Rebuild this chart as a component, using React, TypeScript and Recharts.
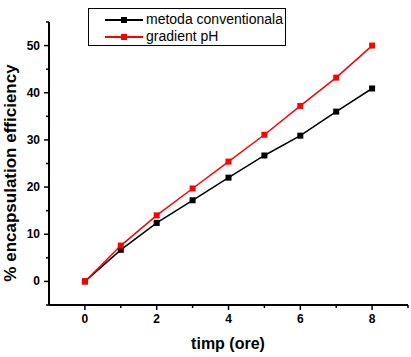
import React from "react";
import { LineChart, Line, XAxis, YAxis, Legend } from "recharts";

const hours = [0, 1, 2, 3, 4, 5, 6, 7, 8];
const conventional = [0, 6.7, 12.4, 17.2, 22.0, 26.7, 30.9, 36.0, 40.9];
const gradientPH = [0, 7.6, 14.0, 19.7, 25.4, 31.1, 37.2, 43.2, 50.0];
const xTicks = [0, 1, 2, 3, 4, 5, 6, 7, 8, 9];
const yTicks = [-5, 0, 5, 10, 15, 20, 25, 30, 35, 40, 45, 50, 55];
const seriesNames = ["metoda conventionala", "gradient pH"];
const seriesColors = ["#000000", "#ff0000"];

const data = hours.map((h, i) => ({ h, a: conventional[i], b: gradientPH[i] }));

const FONT = "'Liberation Sans', Arial, sans-serif";

const XTick = (props: any) => {
  const { x, y, payload } = props;
  const v = payload.value;
  const major = v % 2 === 0;
  return (
    <g>
      <line x1={x} x2={x} y1={y} y2={y + (major ? 5 : 3)} stroke="#000" strokeWidth={1.5} />
      {major && (
        <text x={x} y={y + 18} textAnchor="middle" fontFamily={FONT} fontWeight="bold" fontSize={12} fill="#000">
          {v}
        </text>
      )}
    </g>
  );
};

const YTick = (props: any) => {
  const { x, y, payload } = props;
  const v = payload.value;
  const major = v % 10 === 0;
  return (
    <g>
      <line x1={x} x2={x - (major ? 5 : 3)} y1={y} y2={y} stroke="#000" strokeWidth={1.5} />
      {major && (
        <text x={x - 9} y={y + 4} textAnchor="end" fontFamily={FONT} fontWeight="bold" fontSize={12} fill="#000">
          {v}
        </text>
      )}
    </g>
  );
};

const SquareDot = (color: string) => (props: any) => {
  const { cx, cy, index } = props;
  if (cx == null || cy == null) return <g key={index} />;
  return <rect key={index} x={cx - 3} y={cy - 3} width={6} height={6} fill={color} />;
};

const LegendBox = () => (
  <div
    style={{
      width: 198,
      height: 38,
      border: "1px solid #000",
      boxSizing: "border-box",
      background: "#fff",
      fontFamily: FONT,
      fontSize: 14,
      lineHeight: "17px",
      paddingTop: 2,
      whiteSpace: "nowrap",
      textAlign: "left",
    }}
  >
    {seriesNames.map((n, i) => (
      <div key={n} style={{ display: "flex", alignItems: "center", height: 17 }}>
        <svg width={57} height={17} style={{ display: "block", flex: "none" }}>
          <line x1={16} x2={54} y1={9} y2={9} stroke={seriesColors[i]} strokeWidth={2} />
          <rect x={32} y={6} width={6} height={6} fill={seriesColors[i]} />
        </svg>
        <span style={{ color: "#000", whiteSpace: "nowrap" }}>{n}</span>
      </div>
    ))}
  </div>
);

export default function App() {
  return (
    <div style={{ position: "absolute", left: 0, top: 0, width: 411, height: 357, background: "#fff" }}>
      <LineChart width={411} height={357} data={data} margin={{ top: 22, right: 3, bottom: 0, left: 0 }}>
        <XAxis
          dataKey="h"
          type="number"
          domain={[-1, 9]}
          ticks={xTicks}
          interval={0}
          tickSize={0}
          tickMargin={0}
          tickLine={false}
          axisLine={{ stroke: "#000", strokeWidth: 2 }}
          tick={<XTick />}
          height={52}
          allowDataOverflow
        />
        <YAxis
          type="number"
          domain={[-5, 55]}
          ticks={yTicks}
          interval={0}
          tickSize={0}
          tickMargin={0}
          tickLine={false}
          axisLine={{ stroke: "#000", strokeWidth: 2 }}
          tick={<YTick />}
          width={49}
          allowDataOverflow
        />
        <Legend
          layout="vertical"
          align="center"
          verticalAlign="middle"
          wrapperStyle={{ position: "absolute", left: 88, top: 8, width: 198, height: 38 }}
          content={() => <LegendBox />}
        />
        <Line
          type="linear"
          dataKey="a"
          name={seriesNames[0]}
          stroke={seriesColors[0]}
          strokeWidth={1.5}
          dot={SquareDot(seriesColors[0])}
          isAnimationActive={false}
        />
        <Line
          type="linear"
          dataKey="b"
          name={seriesNames[1]}
          stroke={seriesColors[1]}
          strokeWidth={1.5}
          dot={SquareDot(seriesColors[1])}
          isAnimationActive={false}
        />
        <text x={228} y={349} textAnchor="middle" fontFamily={FONT} fontWeight="bold" fontSize={16} fill="#000">
          timp (ore)
        </text>
        <text
          x={16}
          y={173}
          textAnchor="middle"
          transform="rotate(-90 16 173)"
          fontFamily={FONT}
          fontWeight="bold"
          fontSize={17}
          fill="#000"
        >
          % encapsulation efficiency
        </text>
      </LineChart>
    </div>
  );
}
